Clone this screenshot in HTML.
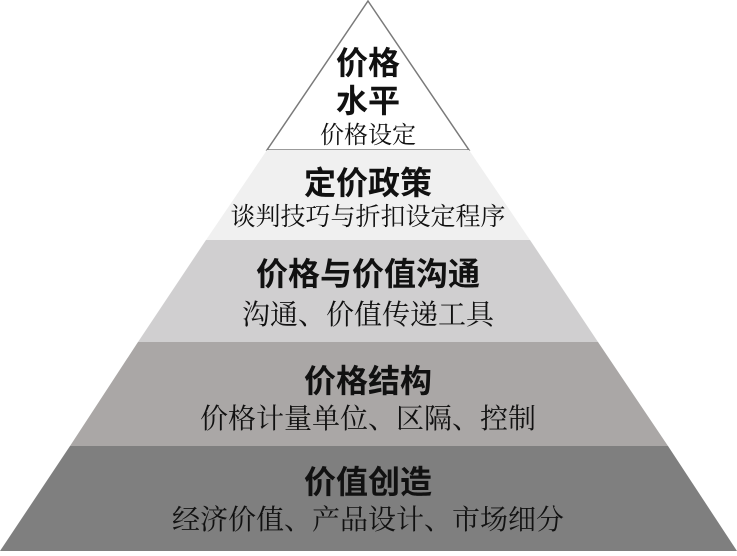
<!DOCTYPE html>
<html><head><meta charset="utf-8"><style>
body{margin:0;background:#fff}
svg text{font-family:"Liberation Sans","Noto Sans CJK SC",sans-serif;fill:#111;text-anchor:middle}
.t{font-size:32px;font-weight:bold}
.s{font-size:28px;font-family:"Liberation Serif","Noto Serif CJK SC",serif}
</style></head><body>
<svg width="737" height="551" viewBox="0 0 737 551" xmlns="http://www.w3.org/2000/svg">
<polygon points="368,1 469,150 267,150" fill="#fff" stroke="#7a7a7a" stroke-width="1.5"/>
<polygon points="267,150 469,150 530,240 206,240" fill="#f0f0f0"/>
<polygon points="206,240 530,240 598,342 138,342" fill="#d0cfd0"/>
<polygon points="138,342 598,342 668,446 70,446" fill="#aaa7a6"/>
<polygon points="70,446 668,446 737,551 0,551" fill="#7f7f7f"/>
<text class="t" x="368" y="74">价格</text>
<text class="t" x="368" y="112">水平</text>
<text class="s" x="368" y="143" style="font-size:24px">价格设定</text>
<text class="t" x="368" y="194">定价政策</text>
<text class="s" x="368" y="225" style="font-size:25px">谈判技巧与折扣设定程序</text>
<text class="t" x="368" y="285">价格与价值沟通</text>
<text class="s" x="368" y="324">沟通、价值传递工具</text>
<text class="t" x="368" y="392">价格结构</text>
<text class="s" x="368" y="428">价格计量单位、区隔、控制</text>
<text class="t" x="368" y="493">价值创造</text>
<text class="s" x="368" y="529">经济价值、产品设计、市场细分</text>
</svg>
</body></html>
